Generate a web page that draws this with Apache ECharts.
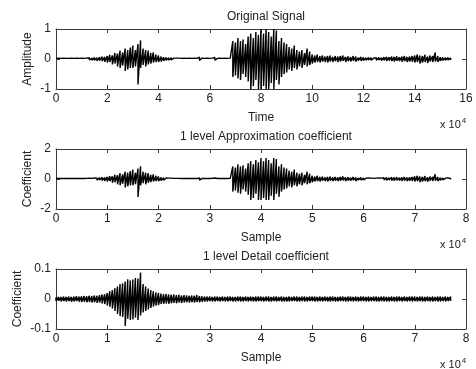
<!DOCTYPE html>
<html>
<head>
<meta charset="utf-8">
<script src="https://cdn.jsdelivr.net/npm/echarts@6/dist/echarts.min.js"></script>
<style>html,body{margin:0;padding:0;background:#fff}#c{width:476px;height:369px}</style>
</head>
<body>
<div id="c"></div>
<script>
// ---- Data: per-bin upper / lower extremes ----
const titles = ['Original Signal', '1 level Approximation coefficient', '1 level Detail coefficient'];
const xNames = ['Time', 'Sample', 'Sample'];
const yNames = ['Amplitude', 'Coefficient', 'Coefficient'];
const xMax = [160000, 80000, 80000];
const xInterval = [20000, 10000, 10000];
const yMin = [-1, -2, -0.1];
const yMax = [1, 2, 0.1];
const yInterval = [1, 2, 0.1];

// Original signal, bin width 1000 samples
const signalStep = 1000;
const signalHi = [
 0.02,0.03,0.02,0.03,0.02,0.02,0.03,0.02,0.03,0.02,0.03,0.02,0.03,0.04,0.03,
 0.05,0.04,0.06,0.08,0.07,
 0.1,0.14,0.12,0.2,0.18,0.28,0.22,0.35,0.3,0.38,
 0.45,0.3,0.5,0.62,0.35,0.3,0.28,0.2,0.22,0.15,
 0.12,0.08,0.06,0.05,0.04,0.04,0.03,0.03,0.03,0.02,
 0.03,0.02,0.03,0.02,0.03,0.02,0.06,0.03,0.02,0.03,
 0.02,0.03,0.05,0.02,0.03,0.02,0.03,0.02,0.03,
 0.6,0.55,0.7,0.6,0.65,0.5,0.75,0.85,0.7,0.9,0.8,
 1.0,0.85,1.0,0.9,0.75,1.0,0.95,0.6,0.7,0.55,
 0.5,0.4,0.35,0.45,0.3,0.25,0.3,0.2,0.35,0.25,
 0.15,0.12,0.15,0.1,0.12,0.08,0.1,0.12,0.07,0.1,
 0.08,0.1,0.12,0.07,0.09,0.06,0.1,0.08,0.05,0.07,
 0.05,0.04,0.05,0.04,0.03,0.04,0.05,0.04,0.06,0.07,
 0.06,0.08,0.07,0.09,0.06,0.08,0.1,0.07,0.08,0.1,
 0.12,0.15,0.12,0.1,0.14,0.08,0.12,0.1,0.22,0.1,
 0.06,0.05,0.04,0.05,0.03
];
const signalLo = [
 -0.02,-0.02,-0.03,-0.02,-0.03,-0.02,-0.02,-0.03,-0.02,-0.03,-0.02,-0.03,-0.02,-0.03,-0.04,
 -0.04,-0.06,-0.05,-0.07,-0.09,
 -0.12,-0.1,-0.18,-0.15,-0.25,-0.3,-0.22,-0.4,-0.35,-0.3,
 -0.3,-0.25,-0.85,-0.3,-0.2,-0.25,-0.18,-0.15,-0.12,-0.1,
 -0.1,-0.08,-0.06,-0.04,-0.04,-0.03,-0.03,-0.02,-0.03,-0.02,
 -0.02,-0.03,-0.02,-0.03,-0.02,-0.03,-0.05,-0.02,-0.03,-0.02,
 -0.03,-0.02,-0.04,-0.03,-0.02,-0.03,-0.02,-0.03,-0.02,
 -0.6,-0.55,-0.65,-0.7,-0.5,-0.6,-0.75,-1.0,-0.9,-0.7,-1.0,
 -1.0,-0.9,-1.0,-1.0,-0.8,-1.0,-0.7,-0.85,-0.6,-0.5,
 -0.45,-0.35,-0.4,-0.3,-0.35,-0.25,-0.3,-0.2,-0.25,-0.2,
 -0.15,-0.12,-0.1,-0.12,-0.08,-0.1,-0.12,-0.08,-0.1,-0.07,
 -0.1,-0.08,-0.06,-0.1,-0.07,-0.08,-0.06,-0.09,-0.05,-0.06,
 -0.05,-0.04,-0.03,-0.04,-0.03,-0.04,-0.03,-0.05,-0.04,-0.06,
 -0.05,-0.07,-0.08,-0.06,-0.07,-0.09,-0.07,-0.1,-0.08,-0.09,
 -0.12,-0.1,-0.15,-0.12,-0.1,-0.13,-0.08,-0.1,-0.08,-0.1,
 -0.06,-0.05,-0.04,-0.03,-0.03
];

// 1 level approximation coefficient, bin width 500 samples
const approxStep = 500;
const approxHi = [
 0.03,0.04,0.03,0.04,0.03,0.03,0.04,0.03,0.04,0.03,0.04,0.03,0.04,0.06,0.04,
 0.07,0.06,0.08,0.11,0.1,
 0.14,0.2,0.17,0.28,0.25,0.39,0.31,0.49,0.42,0.53,
 0.63,0.42,0.7,0.85,0.49,0.42,0.39,0.28,0.31,0.21,
 0.17,0.11,0.08,0.07,0.06,0.06,0.04,0.04,0.04,0.03,
 0.04,0.03,0.04,0.03,0.04,0.03,0.08,0.04,0.03,0.04,
 0.03,0.04,0.07,0.03,0.04,0.03,0.04,0.03,0.04,
 0.84,0.77,0.98,0.84,0.91,0.7,1.05,1.19,0.98,1.26,1.12,
 1.4,1.19,1.4,1.26,1.05,1.4,1.33,0.84,0.98,0.77,
 0.7,0.56,0.49,0.63,0.42,0.35,0.42,0.28,0.49,0.35,
 0.21,0.17,0.21,0.14,0.17,0.11,0.14,0.17,0.1,0.14,
 0.11,0.14,0.17,0.1,0.13,0.08,0.14,0.11,0.07,0.1,
 0.07,0.06,0.07,0.06,0.04,0.06,0.07,0.06,0.08,0.1,
 0.08,0.11,0.1,0.13,0.08,0.11,0.14,0.1,0.11,0.14,
 0.17,0.21,0.17,0.14,0.2,0.11,0.17,0.14,0.31,0.14,
 0.08,0.07,0.06,0.07,0.04
];
const approxLo = [
 -0.03,-0.03,-0.04,-0.03,-0.04,-0.03,-0.03,-0.04,-0.03,-0.04,-0.03,-0.04,-0.03,-0.04,-0.06,
 -0.06,-0.08,-0.07,-0.1,-0.13,
 -0.17,-0.14,-0.25,-0.21,-0.35,-0.42,-0.31,-0.56,-0.49,-0.42,
 -0.42,-0.35,-1.2,-0.42,-0.28,-0.35,-0.25,-0.21,-0.17,-0.14,
 -0.14,-0.11,-0.08,-0.06,-0.06,-0.04,-0.04,-0.03,-0.04,-0.03,
 -0.03,-0.04,-0.03,-0.04,-0.03,-0.04,-0.07,-0.03,-0.04,-0.03,
 -0.04,-0.03,-0.06,-0.04,-0.03,-0.04,-0.03,-0.04,-0.03,
 -0.84,-0.77,-0.91,-0.98,-0.7,-0.84,-1.05,-1.4,-1.26,-0.98,-1.4,
 -1.4,-1.26,-1.4,-1.4,-1.12,-1.4,-0.98,-1.19,-0.84,-0.7,
 -0.63,-0.49,-0.56,-0.42,-0.49,-0.35,-0.42,-0.28,-0.35,-0.28,
 -0.21,-0.17,-0.14,-0.17,-0.11,-0.14,-0.17,-0.11,-0.14,-0.1,
 -0.14,-0.11,-0.08,-0.14,-0.1,-0.11,-0.08,-0.13,-0.07,-0.08,
 -0.07,-0.06,-0.04,-0.06,-0.04,-0.06,-0.04,-0.07,-0.06,-0.08,
 -0.07,-0.1,-0.11,-0.08,-0.1,-0.13,-0.1,-0.14,-0.11,-0.13,
 -0.17,-0.14,-0.21,-0.17,-0.14,-0.18,-0.11,-0.14,-0.11,-0.14,
 -0.08,-0.07,-0.06,-0.04,-0.04
];

// 1 level detail coefficient, bin width 500 samples
const detailStep = 500;
const detailHi = [
 0.006,0.007,0.007,0.008,0.007,0.008,0.007,0.008,0.009,0.008,
 0.009,0.01,0.009,0.011,0.01,0.012,0.011,0.013,0.015,0.016,
 0.02,0.026,0.03,0.036,0.042,0.05,0.052,0.058,0.066,0.062,
 0.065,0.07,0.068,0.088,0.05,0.042,0.035,0.03,0.026,0.022,
 0.02,0.018,0.016,0.017,0.015,0.014,0.015,0.013,0.014,0.012,
 0.013,0.012,0.011,0.012,0.011,0.013,0.01,0.009,0.008,0.008,
 0.008,0.007,0.008,0.008,0.007,0.008,0.007,0.008,0.008,0.007,
 0.007,0.008,0.008,0.007,0.008,0.007,0.008,0.007,0.008,0.008,
 0.008,0.007,0.008,0.008,0.007,0.008,0.008,0.007,0.008,0.007,
 0.007,0.008,0.007,0.008,0.008,0.007,0.008,0.008,0.007,0.008,
 0.008,0.008,0.007,0.008,0.007,0.008,0.007,0.008,0.008,0.007,
 0.007,0.008,0.008,0.007,0.008,0.008,0.007,0.008,0.007,0.008,
 0.008,0.007,0.008,0.007,0.008,0.008,0.007,0.008,0.008,0.007,
 0.007,0.008,0.007,0.008,0.008,0.007,0.008,0.007,0.008,0.008,
 0.008,0.007,0.008,0.008,0.007,0.008,0.007,0.008,0.007,0.008,
 0.008,0.007,0.008,0.007,0.008
];
const detailLo = [
 -0.007,-0.006,-0.008,-0.007,-0.008,-0.007,-0.009,-0.008,-0.007,-0.009,
 -0.01,-0.009,-0.011,-0.01,-0.012,-0.011,-0.013,-0.012,-0.015,-0.017,
 -0.022,-0.026,-0.032,-0.04,-0.05,-0.057,-0.06,-0.09,-0.066,-0.07,
 -0.068,-0.062,-0.07,-0.055,-0.045,-0.04,-0.035,-0.03,-0.025,-0.022,
 -0.02,-0.017,-0.016,-0.015,-0.016,-0.014,-0.013,-0.014,-0.012,-0.013,
 -0.012,-0.011,-0.012,-0.011,-0.012,-0.01,-0.011,-0.009,-0.008,-0.008,
 -0.007,-0.008,-0.008,-0.007,-0.008,-0.007,-0.008,-0.008,-0.007,-0.008,
 -0.008,-0.007,-0.008,-0.008,-0.007,-0.008,-0.007,-0.008,-0.008,-0.007,
 -0.007,-0.008,-0.007,-0.008,-0.008,-0.007,-0.008,-0.007,-0.008,-0.008,
 -0.008,-0.008,-0.007,-0.007,-0.008,-0.008,-0.007,-0.008,-0.008,-0.007,
 -0.007,-0.008,-0.008,-0.007,-0.008,-0.007,-0.008,-0.008,-0.007,-0.008,
 -0.008,-0.007,-0.007,-0.008,-0.008,-0.007,-0.008,-0.007,-0.008,-0.007,
 -0.007,-0.008,-0.008,-0.007,-0.007,-0.008,-0.008,-0.007,-0.008,-0.008,
 -0.008,-0.007,-0.008,-0.008,-0.007,-0.008,-0.007,-0.008,-0.007,-0.008,
 -0.007,-0.008,-0.007,-0.008,-0.008,-0.007,-0.008,-0.008,-0.007,-0.008,
 -0.008,-0.007,-0.008,-0.007,-0.007
];

// ---- Build chart: each bin drawn as a stroke from its low to its high value ----
function toPath(hi, lo, step) {
  const out = [];
  for (let i = 0; i < hi.length; i++) {
    out.push([i * step, hi[i]]);
    out.push([i * step, lo[i]]);
  }
  return out;
}
const seriesData = [
  toPath(signalHi, signalLo, signalStep),
  toPath(approxHi, approxLo, approxStep),
  toPath(detailHi, detailLo, detailStep)
];

const FONT = '"Liberation Sans", Arial, Helvetica, sans-serif';
const AX = '#3a3a3a';
const TXT = '#222';
const gridTops = [29, 149, 269];
const nameGaps = [22, 22, 32];

const grid = [], xAxis = [], yAxis = [], series = [], title = [], graphic = [];
for (let k = 0; k < 3; k++) {
  grid.push({ left: 56, right: 10, top: gridTops[k], height: 60 });
  const xBase = {
    gridIndex: k, type: 'value', min: 0, max: xMax[k], interval: xInterval[k],
    splitLine: { show: false },
    axisLine: { show: true, onZero: false, lineStyle: { color: AX, width: 1 } },
    axisTick: { show: true, inside: true, length: 4, lineStyle: { color: AX } }
  };
  xAxis.push(Object.assign({}, xBase, {
    position: 'bottom',
    name: xNames[k], nameLocation: 'middle', nameGap: 23,
    nameTextStyle: { color: TXT, fontFamily: FONT, fontSize: 12 },
    axisLabel: { show: true, margin: 4, color: TXT, fontFamily: FONT, fontSize: 12,
      formatter: v => String(Math.round(v / 10000)) }
  }));
  xAxis.push(Object.assign({}, xBase, { position: 'top', axisLabel: { show: false } }));
  const yBase = {
    gridIndex: k, type: 'value', min: yMin[k], max: yMax[k], interval: yInterval[k],
    splitLine: { show: false },
    axisLine: { show: true, onZero: false, lineStyle: { color: AX, width: 1 } },
    axisTick: { show: true, inside: true, length: 4, lineStyle: { color: AX } }
  };
  yAxis.push(Object.assign({}, yBase, {
    position: 'left',
    name: yNames[k], nameLocation: 'middle', nameGap: nameGaps[k], nameMoveOverlap: false,
    nameTextStyle: { color: TXT, fontFamily: FONT, fontSize: 12 },
    axisLabel: { show: true, margin: 5, color: TXT, fontFamily: FONT, fontSize: 12,
      formatter: v => String(parseFloat(v.toFixed(3))) }
  }));
  yAxis.push(Object.assign({}, yBase, { position: 'right', axisLabel: { show: false } }));
  series.push({
    type: 'line', xAxisIndex: 2 * k, yAxisIndex: 2 * k, data: seriesData[k],
    showSymbol: false, symbol: 'none', sampling: null, animation: false, silent: true,
    lineStyle: { color: '#000', width: 1.4 }, clip: true
  });
  title.push({
    text: titles[k], left: 261, top: gridTops[k] - 23, textAlign: 'center',
    textStyle: { color: TXT, fontFamily: FONT, fontSize: 12, fontWeight: 'normal' }
  });
  graphic.push({
    type: 'text', left: 440, top: gridTops[k] + 88,
    style: {
      text: 'x 10{s|4}', fill: TXT, font: '11px ' + FONT,
      rich: { s: { fontSize: 8, fontFamily: FONT, fill: TXT, verticalAlign: 'top', padding: [0, 0, 8, 1] } }
    }
  });
}

const chart = echarts.init(document.getElementById('c'), null, { renderer: 'canvas' });
chart.setOption({ animation: false, backgroundColor: '#fff', title, grid, xAxis, yAxis, series, graphic });
</script>
</body>
</html>
